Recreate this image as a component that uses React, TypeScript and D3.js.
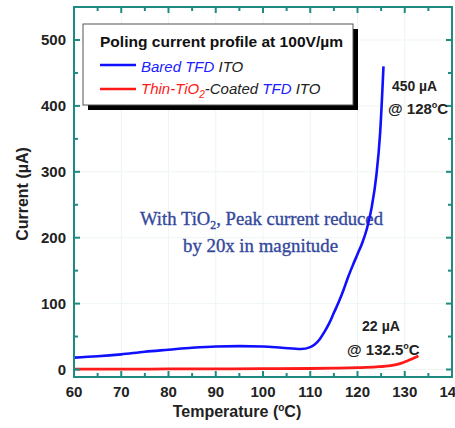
import React from "react";
import * as d3 from "d3";

const bluePts: [number, number][] = [
  [60, 18], [65, 20], [70, 23], [75, 27], [80, 30], [85, 33], [90, 35], [95, 35.5],
  [100, 35], [104, 33], [108, 31], [110, 34], [112, 46], [113, 57], [114, 70], [115, 86],
  [116, 102], [117, 120], [118, 140], [119, 158], [120, 175], [121, 192], [122, 214],
  [123, 246], [124, 295], [124.8, 360], [125.5, 460],
];
const redPts: [number, number][] = [
  [60, 0.5], [70, 0.5], [80, 0.8], [90, 1], [100, 1.2], [110, 1.5], [115, 2], [120, 2.8],
  [124, 4], [127, 6], [129, 9], [130.5, 13], [131.5, 16], [132.9, 20.5],
];
const xTicks = [60, 70, 80, 90, 100, 110, 120, 130, 140];
const xMinor = [65, 75, 85, 95, 105, 115, 125, 135];
const yTicks = [0, 100, 200, 300, 400, 500];
const yMinor = [50, 150, 250, 350, 450];

const AXIS = "#1f8a80";
const BOLD = "'Liberation Sans', Arial, sans-serif";

export default function App() {
  const left = 74, right = 452, top = 7, bottom = 377;
  const x = d3.scaleLinear().domain([60, 140]).range([left, right]);
  const y = d3.scaleLinear().domain([0, 500]).range([369.5, 40]);
  const line = d3
    .line<[number, number]>()
    .x((d) => x(d[0]))
    .y((d) => y(d[1]))
    .curve(d3.curveMonotoneX);

  return (
    <svg width={455} height={428} style={{ position: "absolute", left: 0, top: 0, background: "#fff" }}>
      {/* grid */}
      {xTicks.map((t) => (
        <line key={"gx" + t} x1={x(t)} x2={x(t)} y1={top} y2={bottom} stroke="#eef5f3" strokeWidth={1} />
      ))}
      {yTicks.map((t) => (
        <line key={"gy" + t} x1={left} x2={right} y1={y(t)} y2={y(t)} stroke="#eef5f3" strokeWidth={1} />
      ))}

      {/* center annotation */}
      <g fontFamily="'Liberation Serif', 'DejaVu Serif', serif" fontSize={19} fill="#34489c" stroke="#34489c" strokeWidth={0.35}>
        <text x={140} y={225} textLength={243} lengthAdjust="spacingAndGlyphs">
          With TiO<tspan dy={4} fontSize={12}>2</tspan><tspan dy={-4}>, Peak current reduced</tspan>
        </text>
        <text x={183} y={252} textLength={155} lengthAdjust="spacingAndGlyphs">by 20x in magnitude</text>
      </g>

      {/* data */}
      <path d={line(bluePts) ?? ""} fill="none" stroke="#1010ff" strokeWidth={2.6} />
      <path d={line(redPts) ?? ""} fill="none" stroke="#ff1a1a" strokeWidth={2.8} />

      {/* frame */}
      <rect x={left} y={top} width={right - left} height={bottom - top} fill="none" stroke={AXIS} strokeWidth={2} />
      {xTicks.map((t) => (
        <g key={"xt" + t}>
          <line x1={x(t)} x2={x(t)} y1={bottom} y2={bottom - 6} stroke={AXIS} strokeWidth={2} />
          <line x1={x(t)} x2={x(t)} y1={top} y2={top + 6} stroke={AXIS} strokeWidth={2} />
        </g>
      ))}
      {xMinor.map((t) => (
        <g key={"xm" + t}>
          <line x1={x(t)} x2={x(t)} y1={bottom} y2={bottom - 4} stroke={AXIS} strokeWidth={2} />
          <line x1={x(t)} x2={x(t)} y1={top} y2={top + 4} stroke={AXIS} strokeWidth={2} />
        </g>
      ))}
      {yTicks.map((t) => (
        <g key={"yt" + t}>
          <line x1={left} x2={left + 6} y1={y(t)} y2={y(t)} stroke={AXIS} strokeWidth={2} />
          <line x1={right} x2={right - 6} y1={y(t)} y2={y(t)} stroke={AXIS} strokeWidth={2} />
        </g>
      ))}
      {yMinor.map((t) => (
        <g key={"ym" + t}>
          <line x1={left} x2={left + 4} y1={y(t)} y2={y(t)} stroke={AXIS} strokeWidth={2} />
          <line x1={right} x2={right - 4} y1={y(t)} y2={y(t)} stroke={AXIS} strokeWidth={2} />
        </g>
      ))}

      {/* tick labels */}
      <g fontFamily={BOLD} fontWeight="bold" fontSize={15} fill="#222">
        {xTicks.map((t) => (
          <text key={"xl" + t} x={x(t)} y={397} textAnchor="middle">{t}</text>
        ))}
        {yTicks.map((t) => (
          <text key={"yl" + t} x={66} y={y(t) + 5} textAnchor="end">{t}</text>
        ))}
      </g>

      {/* axis titles */}
      <text x={237} y={417} textAnchor="middle" fontFamily={BOLD} fontWeight="bold" fontSize={16} fill="#222">
        Temperature (<tspan dy={-6} fontSize={10}>o</tspan><tspan dy={6}>C)</tspan>
      </text>
      <text transform="translate(28,194) rotate(-90)" textAnchor="middle" fontFamily={BOLD} fontWeight="bold" fontSize={16} fill="#222">
        Current (µA)
      </text>

      {/* legend */}
      <rect x={88} y={29} width={270} height={81} fill="#000" />
      <rect x={83} y={24} width={270} height={81} fill="#fff" stroke="#555" strokeWidth={1} />
      <text x={100} y={47} fontFamily={BOLD} fontWeight="bold" fontSize={15} fill="#111" textLength={243} lengthAdjust="spacingAndGlyphs">
        Poling current profile at 100V/µm
      </text>
      <line x1={100} x2={136} y1={65} y2={65} stroke="#1010ff" strokeWidth={2.6} />
      <text x={141} y={72} fontFamily={BOLD} fontStyle="italic" fontSize={15} fill="#222">
        <tspan fill="#2020ff">Bared TFD</tspan> ITO
      </text>
      <line x1={100} x2={136} y1={89} y2={89} stroke="#ff1a1a" strokeWidth={2.6} />
      <text x={141} y={94} fontFamily={BOLD} fontStyle="italic" fontSize={15} fill="#222">
        <tspan fill="#ff1a1a">Thin-TiO</tspan>
        <tspan fill="#ff1a1a" dy={4} fontSize={10}>2</tspan>
        <tspan dy={-4}>-Coated </tspan>
        <tspan fill="#2020ff">TFD</tspan> ITO
      </text>

      {/* peak annotations */}
      <g fontFamily={BOLD} fontWeight="bold" fontSize={15} fill="#222">
        <text x={392} y={91} textLength={45} lengthAdjust="spacingAndGlyphs">450 µA</text>
        <text x={388} y={114}>
          @ 128<tspan dy={-6} fontSize={9}>o</tspan><tspan dy={6}>C</tspan>
        </text>
        <text x={362} y={331} textLength={38} lengthAdjust="spacingAndGlyphs">22 µA</text>
        <text x={347} y={355}>
          @ 132.5<tspan dy={-6} fontSize={9}>o</tspan><tspan dy={6}>C</tspan>
        </text>
      </g>
    </svg>
  );
}
